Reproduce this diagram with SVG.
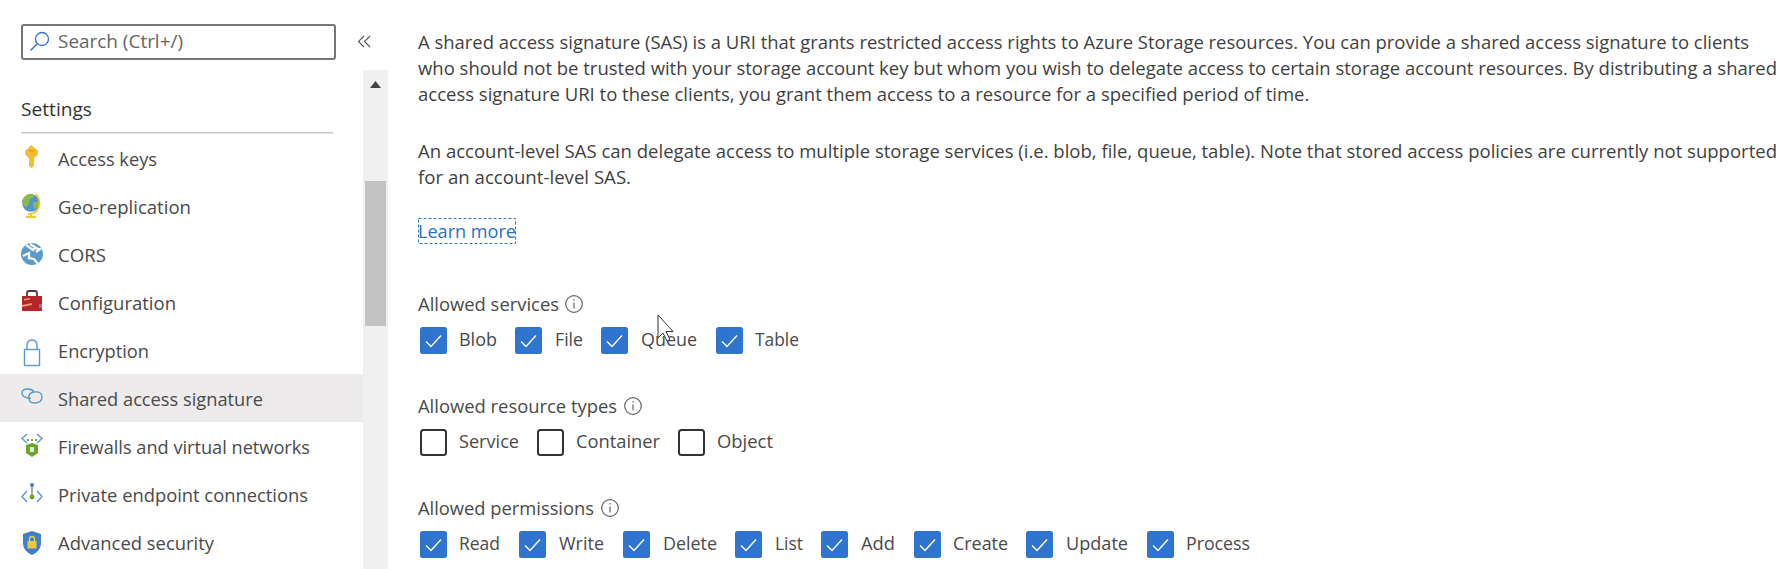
<svg xmlns="http://www.w3.org/2000/svg" width="1791" height="569" viewBox="0 0 1791 569">
<style>
text{font-family:"Open Sans","Noto Sans","Liberation Sans",sans-serif;fill:#4a4a4a;font-size:18.5px}
.p{fill:#3f3f3f}
.on{fill:#2f74cf}
.off{fill:#fff;stroke:#333;stroke-width:2}
.ck{fill:none;stroke:#fff;stroke-width:1.4}
.i{fill:none;stroke:#666;stroke-width:1.2}
.b{fill:none;stroke:#5a9bc9;stroke-width:1.4}
</style>
<defs>
<g id="on"><rect class="on" width="27" height="27" rx="2.5"/><path class="ck" d="M6 14.5l5 5 10-11"/></g>
<rect id="off" class="off" x="1" y="1" width="25" height="25" rx="2.5"/>
<g id="inf"><circle class="i" cx="0" cy="0" r="8.3"/><path d="M0-1.5v6M0-5v1.6" stroke="#666" stroke-width="1.2"/></g>
</defs>
<rect width="1791" height="569" fill="#fff"/>
<g id="search">
<rect x="22" y="25" width="313" height="34" rx="2" fill="#fff" stroke="#757575" stroke-width="2"/>
<circle cx="42" cy="39" r="6.5" fill="none" stroke="#2f74cf" stroke-width="1.3"/>
<path d="M37 44l-6.500 6.500" stroke="#2f74cf" stroke-width="1.5"/>
<text x="58" y="48" textLength="125" lengthAdjust="spacingAndGlyphs" style="fill:#666">Search (Ctrl+/)</text>
<path d="M364 36l-5.500 5.500 5.500 5.500M370 36l-5.500 5.500 5.500 5.500" fill="none" stroke="#555" stroke-width="1.1"/>
</g>
<g id="scrollbar">
<rect x="363" y="70" width="25" height="499" fill="#f0f0f0"/>
<path d="M370 88l5.500-7 5.500 7z" fill="#444"/>
<rect x="365" y="181" width="21" height="145" fill="#c2c2c2"/>
</g>
<g id="settings-heading">
<text x="21" y="116" textLength="71" lengthAdjust="spacingAndGlyphs" style="font-weight:500;fill:#333">Settings</text>
<rect x="21" y="132" width="312" height="1.500" fill="#c8c8c8"/>
</g>
<g id="nav-access-keys">
<path d="M31.500 145l6.500 6v3l-4 4.500v7l-2 2.500h-1l-2-2.500v-7l-4-4.500v-3z" fill="#f2bd34"/>
<rect x="29" y="150" width="5" height="1.500" fill="#d99e1e"/>
<text x="58" y="166" textLength="99" lengthAdjust="spacingAndGlyphs">Access keys</text>
</g>
<g id="nav-geo">
<circle cx="31" cy="203" r="8.800" fill="#4f95cf"/>
<path d="M24 197q4-4 9-3l1 3-4 2-1 5-3 3-3-2q-2-4 1-8zM33 203l4-2 2 3-3 5-3-2z" fill="#8cb94a"/>
<path d="M36 194q7 9 0 18-3 2-8 2" fill="none" stroke="#f0c52e" stroke-width="1.800"/>
<path d="M31 214v3" stroke="#f0c52e" stroke-width="2"/>
<rect x="26" y="216" width="10" height="2" fill="#f0c52e"/>
<text x="58" y="214" textLength="133" lengthAdjust="spacingAndGlyphs">Geo-replication</text>
</g>
<g id="nav-cors">
<circle cx="32" cy="254" r="11" fill="#5a9bc9"/>
<path d="M26 245l7 5 2-2 5 1-4 3M23 256l6-3v5l5 1 4 5M30 244l8 5" fill="none" stroke="#fff" stroke-width="2.200"/>
<text x="58" y="262" textLength="48" lengthAdjust="spacingAndGlyphs">CORS</text>
</g>
<g id="nav-configuration">
<rect x="22" y="296" width="20" height="15" fill="#b5252a"/>
<path d="M27 296v-3q0-2 2-2h6q2 0 2 2v3" fill="none" stroke="#4a3a3a" stroke-width="1.800"/>
<path d="M22 305l10-2v2l-10 2zM24 299l6-1v1.500l-6 1z" fill="#ef9a70"/>
<rect x="39" y="304" width="3" height="4" fill="#8a6fc0"/>
<text x="58" y="310" textLength="118" lengthAdjust="spacingAndGlyphs">Configuration</text>
</g>
<g id="nav-encryption">
<rect x="24.500" y="349.500" width="15" height="16" fill="#fff" class="b"/>
<path d="M27 349.500v-3.500q0-6 5-6t5 6v3.500" class="b"/>
<text x="58" y="358" textLength="91" lengthAdjust="spacingAndGlyphs">Encryption</text>
</g>
<g id="nav-sas">
<rect x="0" y="374" width="363" height="48" fill="#edebeb"/>
<path d="M34 392q-2-3-6-3-6 0-6 4t6 5h3" class="b"/>
<path d="M29 398q-1-5 5-6 8-1 8 5t-8 6q-5 0-5-5" class="b"/>
<text x="58" y="406" textLength="205" lengthAdjust="spacingAndGlyphs">Shared access signature</text>
</g>
<g id="nav-firewalls">
<path d="M27 434l-5 4.500 5 4.500M37 434l5 4.500-5 4.500" class="b"/>
<path d="M27 440h10" stroke="#6aa52e" stroke-width="2" stroke-dasharray="2 2"/>
<path d="M32 443l6 2v8l-6 4-6-4v-8z" fill="#6aa52e"/>
<rect x="30" y="447" width="4" height="5" fill="#e8f0d8"/>
<text x="58" y="454" textLength="252" lengthAdjust="spacingAndGlyphs">Firewalls and virtual networks</text>
</g>
<g id="nav-private">
<path d="M27 491l-5 5.500 5 5.500M37 491l5 5.500-5 5.500" class="b"/>
<path d="M32 486v11" stroke="#777" stroke-width="1.200"/>
<circle cx="32" cy="485" r="2" fill="#4a7fb0"/>
<circle cx="32" cy="497" r="2.400" fill="#6aa52e"/>
<text x="58" y="502" textLength="250" lengthAdjust="spacingAndGlyphs">Private endpoint connections</text>
</g>
<g id="nav-advanced">
<path d="M32 531l9 3v9q0 8-9 12-9-4-9-12v-9z" fill="#3f7fd0"/>
<rect x="27.500" y="541" width="9" height="7.500" fill="#f0c93a"/>
<path d="M29.500 541v-2q0-2.500 2.500-2.500t2.500 2.500v2" fill="none" stroke="#f0c93a" stroke-width="1.300"/>
<text x="58" y="550" textLength="156" lengthAdjust="spacingAndGlyphs">Advanced security</text>
</g>
<g id="description">
<text class="p" x="418" y="49" textLength="1331" lengthAdjust="spacingAndGlyphs">A shared access signature (SAS) is a URI that grants restricted access rights to Azure Storage resources. You can provide a shared access signature to clients</text>
<text class="p" x="418" y="75" textLength="1359" lengthAdjust="spacingAndGlyphs">who should not be trusted with your storage account key but whom you wish to delegate access to certain storage account resources. By distributing a shared</text>
<text class="p" x="418" y="101">access signature URI to these clients, you grant them access to a resource for a specified period of time.</text>
<text class="p" x="418" y="158" textLength="1359" lengthAdjust="spacingAndGlyphs">An account-level SAS can delegate access to multiple storage services (i.e. blob, file, queue, table). Note that stored access policies are currently not supported</text>
<text class="p" x="418" y="184" textLength="213" lengthAdjust="spacingAndGlyphs">for an account-level SAS.</text>
</g>
<g id="learn-more">
<rect x="418.500" y="218.500" width="97" height="25" fill="none" stroke="#2f7fb5" stroke-width="1" stroke-dasharray="3 2"/>
<text x="418" y="238" textLength="98" lengthAdjust="spacingAndGlyphs" style="fill:#2a72c0">Learn more</text>
</g>
<g id="allowed-services">
<text x="418" y="311" textLength="141" lengthAdjust="spacingAndGlyphs">Allowed services</text>
<use href="#inf" x="574" y="304"/>
<use href="#on" x="420" y="327"/><text x="459" y="346" textLength="38" lengthAdjust="spacingAndGlyphs">Blob</text>
<use href="#on" x="515" y="327"/><text x="555" y="346" textLength="28" lengthAdjust="spacingAndGlyphs">File</text>
<use href="#on" x="601" y="327"/><text x="641" y="346" textLength="56" lengthAdjust="spacingAndGlyphs">Queue</text>
<use href="#on" x="716" y="327"/><text x="755" y="346" textLength="44" lengthAdjust="spacingAndGlyphs">Table</text>
</g>
<g id="allowed-resource-types">
<text x="418" y="413" textLength="199" lengthAdjust="spacingAndGlyphs">Allowed resource types</text>
<use href="#inf" x="633" y="406"/>
<use href="#off" x="420" y="429"/><text x="459" y="448" textLength="60" lengthAdjust="spacingAndGlyphs">Service</text>
<use href="#off" x="537" y="429"/><text x="576" y="448" textLength="84" lengthAdjust="spacingAndGlyphs">Container</text>
<use href="#off" x="678" y="429"/><text x="717" y="448" textLength="56" lengthAdjust="spacingAndGlyphs">Object</text>
</g>
<g id="allowed-permissions">
<text x="418" y="515" textLength="176" lengthAdjust="spacingAndGlyphs">Allowed permissions</text>
<use href="#inf" x="610" y="508"/>
<use href="#on" x="420" y="531"/><text x="459" y="550" textLength="41" lengthAdjust="spacingAndGlyphs">Read</text>
<use href="#on" x="519" y="531"/><text x="559" y="550" textLength="45" lengthAdjust="spacingAndGlyphs">Write</text>
<use href="#on" x="623" y="531"/><text x="663" y="550" textLength="54" lengthAdjust="spacingAndGlyphs">Delete</text>
<use href="#on" x="735" y="531"/><text x="775" y="550" textLength="28" lengthAdjust="spacingAndGlyphs">List</text>
<use href="#on" x="821" y="531"/><text x="861" y="550" textLength="34" lengthAdjust="spacingAndGlyphs">Add</text>
<use href="#on" x="914" y="531"/><text x="953" y="550" textLength="55" lengthAdjust="spacingAndGlyphs">Create</text>
<use href="#on" x="1026" y="531"/><text x="1066" y="550" textLength="62" lengthAdjust="spacingAndGlyphs">Update</text>
<use href="#on" x="1147" y="531"/><text x="1186" y="550" textLength="64" lengthAdjust="spacingAndGlyphs">Process</text>
</g>
<g id="cursor">
<path d="M658 315v23l5-5 4 8 3-1.500-4-8h7z" fill="#fff" stroke="#333" stroke-width="1"/>
</g>
</svg>
